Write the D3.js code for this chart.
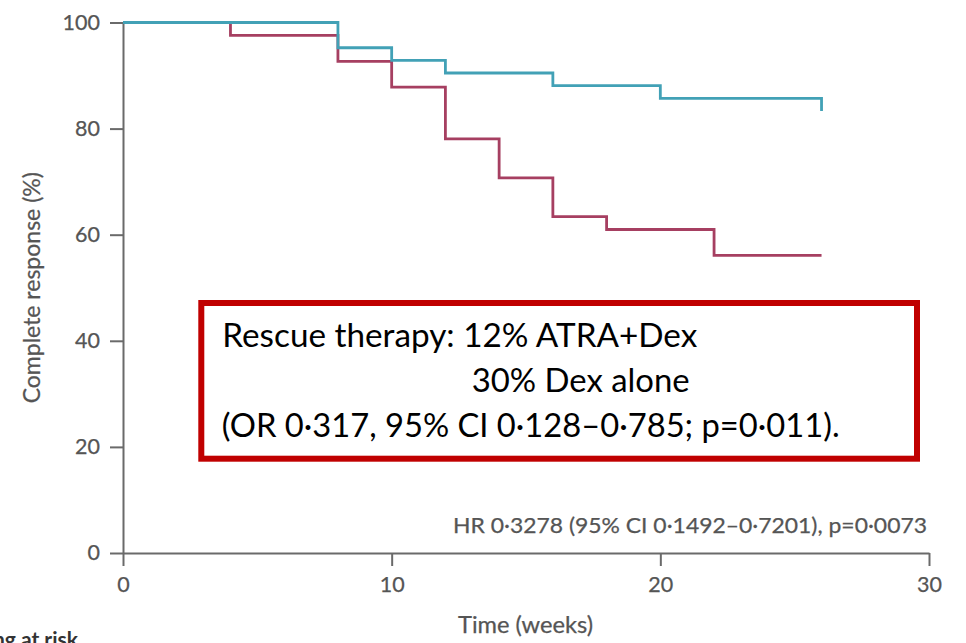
<!DOCTYPE html>
<html>
<head>
<meta charset="utf-8">
<script src="https://cdn.jsdelivr.net/npm/d3@7"></script>
<style>
  html, body { margin: 0; padding: 0; background: #ffffff; }
  svg { display: block; }
</style>
</head>
<body>
<svg id="chart" width="966" height="643"></svg>
<script>
// Kaplan-Meier style step curves: complete response (%) over time (weeks)
const atraDexTimes  = [0, 8, 10, 12, 16, 20];
const atraDexValues = [100, 95.24, 92.86, 90.48, 88.10, 85.71];
const atraDexEnd    = { time: 26, value: 83.33 };

const dexTimes  = [0, 4, 8, 10, 12, 14, 16, 18, 22];
const dexValues = [100, 97.56, 92.68, 87.80, 78.05, 70.73, 63.41, 60.98, 56.10];
const dexEnd    = { time: 26, value: 56.10 };

const xTicks = [0, 10, 20, 30];
const yTicks = [0, 20, 40, 60, 80, 100];

const xLabel = "Time (weeks)";
const yLabel = "Complete response (%)";
const hrNote = "HR 0·3278 (95% CI 0·1492–0·7201), p=0·0073";
const boxLines = [
  "Rescue therapy: 12% ATRA+Dex",
  "30% Dex alone",
  "(OR 0·317, 95% CI 0·128–0·785; p=0·011)."
];
const riskLabel = "Remaining at risk";

const svg = d3.select("#chart");
const axisColor = "#6a6a6a";
const textColor = "#555555";
const axisFont = "Lato, 'Open Sans', sans-serif";

const x = d3.scaleLinear().domain([0, 30]).range([123, 929]);
const y = d3.scaleLinear().domain([0, 100]).range([553, 22.5]);

// Slightly heavier text weight for the axis annotations
function axisText(sel, size) {
  return sel
    .attr("fill", textColor)
    .attr("stroke", textColor)
    .attr("stroke-width", 0.25)
    .style("font-family", axisFont)
    .style("font-size", size + "px");
}

// Axes
const xAxis = svg.append("g")
  .attr("transform", `translate(0,${y(0)})`)
  .call(d3.axisBottom(x).tickValues(xTicks).tickSize(13).tickSizeOuter(0).tickPadding(11));
const yAxis = svg.append("g")
  .attr("transform", `translate(${x(0)},0)`)
  .call(d3.axisLeft(y).tickValues(yTicks).tickSize(13).tickSizeOuter(0).tickPadding(10));

[xAxis, yAxis].forEach(g => {
  g.select(".domain").attr("stroke", axisColor).attr("stroke-width", 2);
  g.selectAll(".tick line").attr("stroke", axisColor).attr("stroke-width", 2);
  axisText(g.selectAll(".tick text"), 21.5);
});

// Step curves
function stepPoints(times, values, end) {
  const pts = times.map((t, i) => [t, values[i]]);
  pts.push([end.time, values[values.length - 1]]);
  pts.push([end.time, end.value]);
  return pts;
}
const line = d3.line()
  .x(d => x(d[0]))
  .y(d => y(d[1]))
  .curve(d3.curveStepAfter);

svg.append("path")
  .datum(stepPoints(dexTimes, dexValues, dexEnd))
  .attr("fill", "none")
  .attr("stroke", "#a63f61")
  .attr("stroke-width", 2.8)
  .attr("d", line);

svg.append("path")
  .datum(stepPoints(atraDexTimes, atraDexValues, atraDexEnd))
  .attr("fill", "none")
  .attr("stroke", "#42a1b6")
  .attr("stroke-width", 2.8)
  .attr("d", line);

// Axis titles
axisText(svg.append("text"), 23)
  .attr("x", 458).attr("y", 633)
  .attr("textLength", 135)
  .attr("lengthAdjust", "spacingAndGlyphs")
  .text(xLabel);

axisText(svg.append("text"), 23)
  .attr("transform", `translate(40,${(y(0) + y(100)) / 2}) rotate(-90)`)
  .attr("text-anchor", "middle")
  .text(yLabel);

// Hazard ratio note
axisText(svg.append("text"), 21.5)
  .attr("x", 453).attr("y", 533)
  .attr("textLength", 474)
  .attr("lengthAdjust", "spacingAndGlyphs")
  .text(hrNote);

// Number at risk heading (runs off the lower-left edge)
svg.append("text")
  .attr("x", 78).attr("y", 647)
  .attr("text-anchor", "end")
  .attr("fill", "#333333")
  .style("font-family", axisFont)
  .style("font-size", "21px")
  .style("font-weight", "bold")
  .text(riskLabel);

// Rescue therapy call-out box
svg.append("rect")
  .attr("x", 201.3).attr("y", 303)
  .attr("width", 917 - 201.3).attr("height", 458.7 - 303)
  .attr("fill", "#ffffff")
  .attr("stroke", "#c00000")
  .attr("stroke-width", 6);

const boxFont = "Lato, Carlito, 'Open Sans', sans-serif";
const boxSpecs = [
  { x: 222.3, y: 346.7, w: 475 },
  { x: 471.7, y: 391.7, w: 218 },
  { x: 221.7, y: 436.7, w: 618 }
];
boxLines.forEach((t, i) => {
  svg.append("text")
    .attr("x", boxSpecs[i].x).attr("y", boxSpecs[i].y)
    .attr("fill", "#000000")
    .attr("textLength", boxSpecs[i].w)
    .attr("lengthAdjust", "spacingAndGlyphs")
    .style("font-family", boxFont)
    .style("font-size", "32px")
    .text(t);
});
</script>
</body>
</html>
